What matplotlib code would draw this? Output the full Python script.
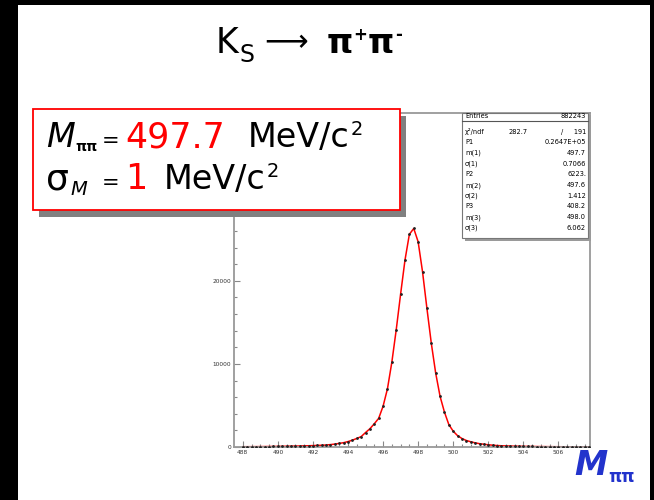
import numpy as np
import matplotlib
matplotlib.use("Agg")
import matplotlib.pyplot as plt
from matplotlib.patches import Rectangle

W, H = 654, 500

# histogram of pi+ pi- invariant mass, 0.25 MeV bins starting at 488.0
mass_start = 488.0
bin_width = 0.25
counts = [32, 35, 38, 42, 47, 52, 58, 65,            # 488.00 - 489.75
          72, 80, 90, 100, 110, 120, 135, 150,       # 490.00 - 491.75
          170, 190, 210, 235, 290, 350, 430, 520,    # 492.00 - 493.75
          650, 820, 1030, 1250, 1740, 2200, 2800, 3450,   # 494.00 - 495.75
          4900, 7000, 10200, 14100, 18400, 22500, 25600, 26300,  # 496.00 - 497.75
          24700, 21100, 16700, 12500, 8900, 6100, 4200, 2700,    # 498.00 - 499.75
          1900, 1360, 1020, 780, 630, 500, 400, 330,   # 500.00 - 501.75
          270, 215, 175, 150, 130, 115, 100, 90,       # 502.00 - 503.75
          80, 70, 62, 55, 50, 45, 40, 36,              # 504.00 - 505.75
          33, 30, 27, 25, 23, 21, 19, 17]              # 506.00 - 507.75

x_ticks = [488, 490, 492, 494, 496, 498, 500, 502, 504, 506]
y_ticks = [0, 10000, 20000, 30000, 40000]

stat_rows = [("m(1)", "497.7"), ("σ(1)", "0.7066"), ("P2", "6223."),
             ("m(2)", "497.6"), ("σ(2)", "1.412"), ("P3", "408.2"),
             ("m(3)", "498.0"), ("σ(3)", "6.062")]

fig = plt.figure(figsize=(W / 100, H / 100), dpi=100)
fig.patch.set_facecolor("black")
fig.patches.append(Rectangle((18 / W, 0), 632 / W, 495 / H, transform=fig.transFigure,
                             facecolor="white", edgecolor="none", zorder=-5))

ax = fig.add_axes([234 / W, 1 - 447 / H, 356 / W, 334 / H])
ax.set_facecolor("white")
centers = mass_start + bin_width * np.arange(len(counts))
ax.plot(centers, counts, color="red", lw=1.1, zorder=2)
ax.plot(centers, counts, ls="none", marker="o", ms=1.0, color="#222222", zorder=3)
ax.set_xlim(487.5, 507.8)
ax.set_ylim(0, 40200)
ax.set_xticks(x_ticks)
ax.set_xticks(np.arange(488, 508, 0.5), minor=True)
ax.set_yticks(y_ticks)
ax.set_yticks(np.arange(0, 40001, 2000), minor=True)
ax.set_xticklabels([str(t) for t in x_ticks], fontsize=4.2, color="#333333")
ax.set_yticklabels([str(t) for t in y_ticks], fontsize=4.2, color="#333333")
ax.tick_params(which="both", direction="in", color="#888888", width=0.8, pad=2)
ax.tick_params(which="major", length=4)
ax.tick_params(which="minor", length=2)
for s in ax.spines.values():
    s.set_color("#999999")
    s.set_linewidth(1.3)

renderer = fig.canvas.get_renderer()


def put_pieces(x, y, pieces):
    # pieces: (text, color, size, dy, gap before in px, extra kwargs)
    # x, y in pixels from top-left, y is the baseline
    for s, color, size, dy, gap, kw in pieces:
        x += gap
        t = fig.text(x / W, 1 - (y + dy) / H, s, color=color, fontsize=size,
                     va="baseline", ha="left", zorder=6, **kw)
        x += t.get_window_extent(renderer).width


# title
put_pieces(216, 53, [("K", "black", 25, 0, 0, {}),
                     ("S", "black", 17, 9, 1, {}),
                     ("⟶", "black", 22, -2, 10, {}),
                     ("π", "black", 24, 0, 18, {"fontweight": "bold"}),
                     ("+", "black", 12, -13, 0, {"fontweight": "bold"}),
                     ("π", "black", 24, 0, 1, {"fontweight": "bold"}),
                     ("-", "black", 12, -13, 1, {"fontweight": "bold"})])

# stats box
fig.patches.append(Rectangle((465 / W, 1 - 241 / H), 126 / W, 126 / H, transform=fig.transFigure,
                             facecolor="#9a9a9a", edgecolor="none", zorder=4))
fig.patches.append(Rectangle((462 / W, 1 - 238 / H), 126 / W, 125 / H, transform=fig.transFigure,
                             facecolor="white", edgecolor="#777777", lw=0.8, zorder=4.5))
fig.add_artist(plt.Line2D([462 / W, 588 / W], [1 - 121 / H, 1 - 121 / H],
                          transform=fig.transFigure, color="#555555", lw=0.8, zorder=5))
fs = 4.8
fig.text(465 / W, 1 - 118 / H, "Entries", fontsize=fs, zorder=6, va="baseline")
fig.text(586 / W, 1 - 118 / H, "882243", fontsize=fs, zorder=6, va="baseline", ha="right")
fig.text(465 / W, 1 - 134 / H, "χ²/ndf", fontsize=fs, zorder=6, va="baseline")
fig.text(528 / W, 1 - 134 / H, "282.7", fontsize=fs, zorder=6, va="baseline", ha="right")
fig.text(586 / W, 1 - 134 / H, "/     191", fontsize=fs, zorder=6, va="baseline", ha="right")
fig.text(465 / W, 1 - 144 / H, "P1", fontsize=fs, zorder=6, va="baseline")
fig.text(586 / W, 1 - 144 / H, "0.2647E+05", fontsize=fs, zorder=6, va="baseline", ha="right")
for i, (lab, val) in enumerate(stat_rows):
    yy = 155 + i * 10.7
    fig.text(465 / W, 1 - yy / H, lab, fontsize=fs, zorder=6, va="baseline")
    fig.text(586 / W, 1 - yy / H, val, fontsize=fs, zorder=6, va="baseline", ha="right")

# result box
fig.patches.append(Rectangle((39 / W, 1 - 217 / H), 367 / W, 101 / H, transform=fig.transFigure,
                             facecolor="#808080", edgecolor="none", zorder=4))
fig.patches.append(Rectangle((33 / W, 1 - 210 / H), 367 / W, 101 / H, transform=fig.transFigure,
                             facecolor="white", edgecolor="red", lw=1.3, zorder=4.5))
put_pieces(46, 147, [("M", "black", 24, 0, 0, {"style": "italic"}),
                     ("ππ", "black", 10, 4, 1, {"fontweight": "bold"}),
                     ("=", "black", 15, 0, 4, {}),
                     ("497.7", "red", 25, 0, 6, {}),
                     ("MeV/c", "black", 24, 0, 22, {}),
                     ("2", "black", 14, -12, 1, {})])
put_pieces(46, 189, [("σ", "black", 26, 0, 0, {}),
                     ("M", "black", 14, 6, 2, {"style": "italic"}),
                     ("=", "black", 15, 0, 14, {}),
                     ("1", "red", 25, 0, 6, {}),
                     ("MeV/c", "black", 24, 0, 16, {}),
                     ("2", "black", 14, -12, 1, {})])

# axis label
put_pieces(574, 475, [("M", "#2233cc", 24, 0, 0, {"style": "italic", "fontweight": "bold"}),
                      ("ππ", "#2233cc", 12, 7, 1, {"fontweight": "bold"})])

fig.savefig("out.png", dpi=100, facecolor=fig.get_facecolor())
